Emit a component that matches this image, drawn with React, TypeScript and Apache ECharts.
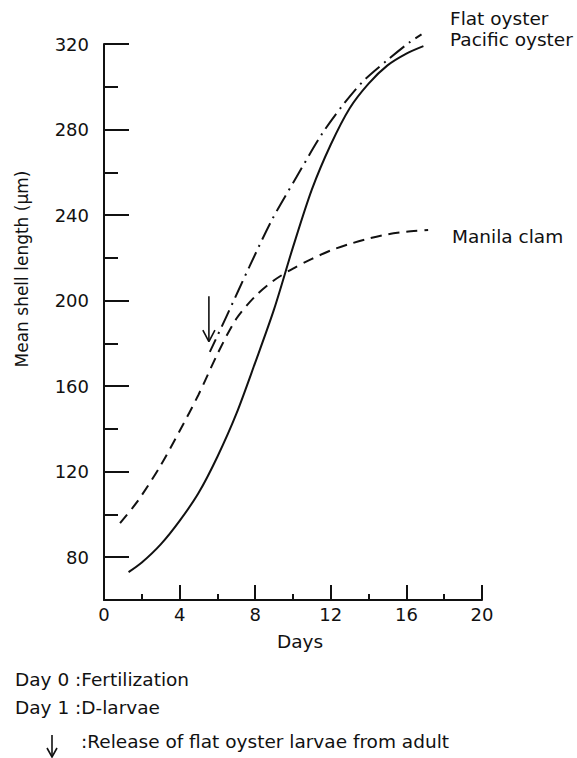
import { useEffect, useRef } from "react";
import * as echarts from "echarts";

// ---- data ----
const pacificDays = [1.3, 2.0, 3.0, 4.0, 5.0, 6.0, 7.0, 8.0, 9.0, 10.0, 11.0, 12.0, 13.0, 14.0, 15.0, 16.0, 16.9];
const pacificLength = [73, 77.5, 86, 97, 110, 127, 147, 171, 196, 225, 252, 273, 290, 301.5, 310, 315.5, 319];

const flatDays = [5.6, 6.5, 7.7, 8.9, 10.2, 11.5, 12.6, 13.7, 15.0, 16.2, 16.8];
const flatLength = [176, 193, 216, 238, 258, 277.5, 291, 302.5, 312.5, 321, 324.5];

const manilaDays = [0.85, 1.5, 2.0, 3.0, 4.0, 5.0, 6.0, 7.0, 8.0, 9.0, 10.0, 11.0, 12.0, 13.0, 14.0, 15.0, 16.0, 17.15];
const manilaLength = [96, 103, 109, 123, 139, 156, 175, 191.5, 202, 209.5, 215, 219.5, 223.5, 226.5, 229, 231, 232.2, 233];

const releaseShaftDays = [5.55, 5.55];
const releaseShaftLength = [202, 181];
const releaseHeadDays = [5.23, 5.55, 5.87];
const releaseHeadLength = [186.2, 180.8, 186.2];

const yMajorTicks = [80, 120, 160, 200, 240, 280, 320];
const yMinorTicks = [100, 140, 180, 220, 260, 300];

const seriesNames = ["Flat oyster", "Pacific oyster", "Manila clam"];
const yTitle = "Mean shell length (µm)";
const xTitle = "Days";
const notes = ["Day 0 :Fertilization", "Day 1 :D-larvae", ":Release of flat oyster larvae from adult"];

const INK = "#111111";
const FONT = "DejaVu Sans, sans-serif";

const pairs = (xs: number[], ys: number[]) => xs.map((x, i) => [x, ys[i]]);

function buildOption() {
  const tickStyle = { color: INK, width: 2 };
  const text = (t: string, x: number, y: number, size: number, extra: any = {}) => ({
    type: "text",
    x,
    y,
    silent: true,
    ...extra,
    style: {
      text: t,
      fill: INK,
      fontSize: size,
      fontFamily: FONT,
      align: "left",
      verticalAlign: "middle",
      ...(extra.style || {}),
    },
  });
  return {
    animation: false,
    backgroundColor: "#ffffff",
    grid: { left: 104, right: 95, top: 44, bottom: 158, containLabel: false, outerBoundsMode: "none" },
    xAxis: [
      {
        type: "value",
        min: 0,
        max: 20,
        interval: 4,
        axisLine: { lineStyle: { color: INK, width: 2 } },
        axisTick: { inside: true, length: 15, lineStyle: tickStyle },
        minorTick: { show: true, splitNumber: 2, length: 6, lineStyle: tickStyle },
        axisLabel: { margin: 5, fontSize: 18, color: INK, fontFamily: FONT },
        splitLine: { show: false },
        minorSplitLine: { show: false },
      },
    ],
    yAxis: [
      {
        type: "value",
        min: 60,
        max: 320,
        axisLine: { show: true, lineStyle: { color: INK, width: 2 } },
        axisTick: { show: true, inside: true, length: 25, customValues: yMajorTicks, lineStyle: tickStyle },
        axisLabel: { margin: 15, fontSize: 18, color: INK, fontFamily: FONT, customValues: yMajorTicks },
        splitLine: { show: false },
      },
      {
        type: "value",
        min: 60,
        max: 320,
        position: "left",
        offset: 0,
        axisLine: { show: false },
        axisTick: { show: true, inside: true, length: 14, customValues: yMinorTicks, lineStyle: tickStyle },
        axisLabel: { show: false },
        splitLine: { show: false },
      },
    ],
    series: [
      {
        name: seriesNames[0],
        type: "line",
        data: pairs(flatDays, flatLength),
        smooth: 0.3,
        clip: false,
        symbol: "none",
        lineStyle: { color: INK, width: 2, type: [18, 6, 2, 6], dashOffset: 4 },
      },
      {
        name: seriesNames[1],
        type: "line",
        data: pairs(pacificDays, pacificLength),
        smooth: 0.3,
        clip: false,
        symbol: "none",
        lineStyle: { color: INK, width: 2, type: "solid" },
      },
      {
        name: seriesNames[2],
        type: "line",
        data: pairs(manilaDays, manilaLength),
        smooth: 0.3,
        clip: false,
        symbol: "none",
        lineStyle: { color: INK, width: 2, type: [11, 7] },
      },
      {
        name: "release",
        type: "line",
        data: pairs(releaseShaftDays, releaseShaftLength),
        symbol: "none",
        lineStyle: { color: INK, width: 1.6 },
      },
      {
        name: "release head",
        type: "line",
        data: pairs(releaseHeadDays, releaseHeadLength),
        symbol: "none",
        lineStyle: { color: INK, width: 1.6 },
      },
    ],
    graphic: [
      text(seriesNames[0], 450, 18, 18.5),
      text(seriesNames[1], 450, 39, 18.5),
      text(seriesNames[2], 452, 236, 18.5),
      text(xTitle, 300, 641, 18.5, { style: { align: "center" } }),
      text(yTitle, 22, 269, 17, { rotation: Math.PI / 2, style: { align: "center" } }),
      text(notes[0], 15, 679, 18.5),
      text(notes[1], 15, 707, 18.5),
      text(notes[2], 81, 741, 18.5),
      {
        type: "polyline",
        silent: true,
        shape: { points: [[52, 735], [52, 757]] },
        style: { stroke: INK, lineWidth: 1.6, fill: "none" },
      },
      {
        type: "polyline",
        silent: true,
        shape: { points: [[47, 748], [52, 757], [57, 748]] },
        style: { stroke: INK, lineWidth: 1.6, fill: "none" },
      },
    ],
  };
}

export default function App() {
  const ref = useRef<HTMLDivElement>(null);
  useEffect(() => {
    if (!ref.current) return;
    const chart = echarts.init(ref.current, null, { renderer: "svg" });
    chart.setOption(buildOption() as any);
    return () => chart.dispose();
  }, []);
  return (
    <div
      ref={ref}
      style={{ position: "fixed", left: 0, top: 0, width: 577, height: 758, background: "#ffffff" }}
    />
  );
}
